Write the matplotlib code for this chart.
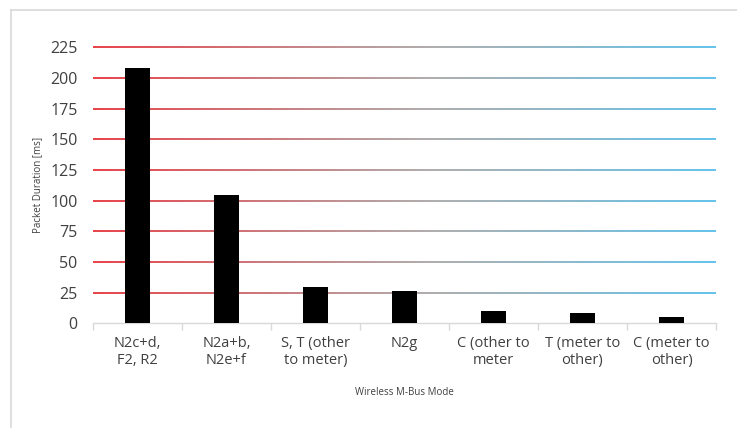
import numpy as np
import matplotlib
matplotlib.use("Agg")
import matplotlib.pyplot as plt
from matplotlib.collections import LineCollection
from matplotlib.lines import Line2D

# data
modes = ["N2c+d,\nF2, R2", "N2a+b,\nN2e+f", "S, T (other\nto meter)", "N2g",
         "C (other to\nmeter", "T (meter to\nother)", "C (meter to\nother)"]
durations = [208, 104.6, 30, 26.6, 10.3, 8.6, 5.4]
yticks = [0, 25, 50, 75, 100, 125, 150, 175, 200, 225]

plt.rcParams['font.family'] = ['Open Sans', 'DejaVu Sans']

fig = plt.figure(figsize=(7.37, 4.28), dpi=100)
ax = fig.add_axes([93 / 737, 1 - 323.3 / 428, (716 - 93) / 737, (323.3 - 47.3) / 428])

x = np.arange(len(modes))
ax.bar(x, durations, width=0.29, color="black", zorder=3)

ax.set_xlim(-0.5, len(modes) - 0.5)
ax.set_ylim(0, 225)

# gradient gridlines: red on the left, grey in the middle, blue on the right
def grad_color(t):
    red = np.array([228, 32, 40]) / 255
    grey = np.array([160, 160, 160]) / 255
    blue = np.array([72, 184, 232]) / 255
    if t < 0.55:
        s = t / 0.55
        return red * (1 - s) + grey * s
    s = (t - 0.55) / 0.45
    return grey * (1 - s) + blue * s

n = 200
xs = np.linspace(-0.5, len(modes) - 0.5, n + 1)
segs, cols = [], []
for yv in yticks[1:]:
    for i in range(n):
        segs.append([(xs[i], yv), (xs[i + 1], yv)])
        cols.append(grad_color(i / (n - 1)))
lc = LineCollection(segs, colors=cols, linewidths=1.2, zorder=1, clip_on=False)
ax.add_collection(lc)

for s in ["top", "right", "left"]:
    ax.spines[s].set_visible(False)
ax.spines["bottom"].set_color("#d9d9d9")
ax.spines["bottom"].set_linewidth(1.0)

ax.set_yticks(yticks)
ax.set_yticklabels([str(v) for v in yticks])
ax.tick_params(axis="y", length=0, pad=11, labelsize=11.5, labelcolor="#404040")

ax.set_xticks(np.arange(len(modes) + 1) - 0.5, minor=False)
ax.set_xticklabels([])
ax.tick_params(axis="x", which="major", length=5, color="#d9d9d9", width=1.0)
ax.set_xticks(x, minor=True)
ax.set_xticklabels(modes, minor=True)
ax.tick_params(axis="x", which="minor", length=0, pad=9, labelsize=10.5,
               labelcolor="#404040")

ax.set_ylabel("Packet Duration [ms]", fontsize=7, color="#404040", labelpad=5)
ax.set_xlabel("Wireless M-Bus Mode", fontsize=7, color="#404040", labelpad=14)

# chart frame (top and left edges visible in the crop)
fig.add_artist(Line2D([11 / 737, 1.0], [1 - 9.5 / 428, 1 - 9.5 / 428],
                      transform=fig.transFigure, color="#d9d9d9", lw=1.2))
fig.add_artist(Line2D([11 / 737, 11 / 737], [0, 1 - 9.5 / 428],
                      transform=fig.transFigure, color="#d9d9d9", lw=1.2))

fig.savefig("out.png", dpi=100)
